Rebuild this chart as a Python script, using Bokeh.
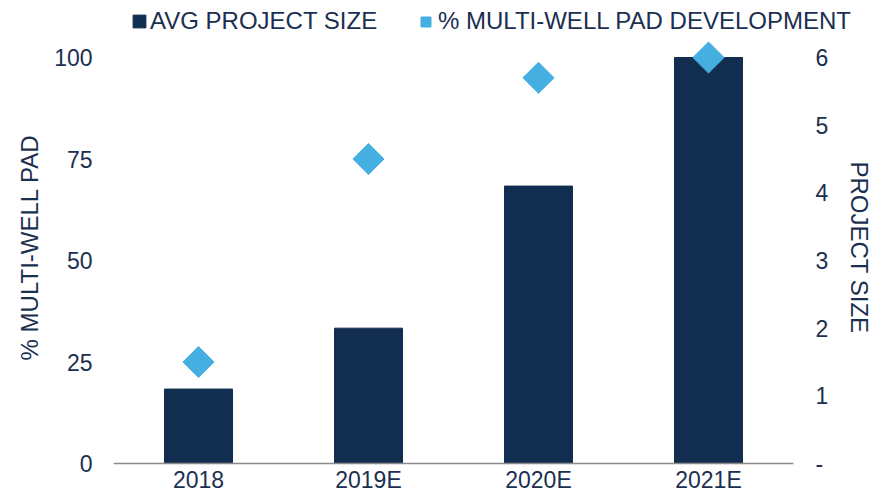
import math
from bokeh.plotting import figure
from bokeh.models import (Range1d, LinearAxis, FixedTicker, Legend, LegendItem)
from bokeh.embed import file_html
from bokeh.resources import INLINE

years = ["2018", "2019E", "2020E", "2021E"]
avg_project_size = [1.1, 2.0, 4.1, 6.0]
pct_multi_well_pad = [25, 75, 95, 100]
left_ticks = [0, 25, 50, 75, 100]
right_ticks = [0, 1, 2, 3, 4, 5, 6]
series_names = ["AVG PROJECT SIZE", "% MULTI-WELL PAD DEVELOPMENT"]

FONT = "Liberation Sans"
TEXT = "#1B2F50"
BAR = "#112E51"
DIAMOND = "#45AFE2"

# vertical frame spans the whole figure; 0 sits at 463px, 100 at 57px
LEFT_MAX = 463 / 4.06
LEFT_MIN = -(494 - 463) / 4.06
RATIO = 6 / 100
# category slots 0..n-1 (labels come from `years`)
slots = list(range(len(years)))
x_end = len(years) - 0.5
X_MAX = -0.5 + 764 / 170

p = figure(x_range=Range1d(-0.5, X_MAX), y_range=Range1d(LEFT_MIN, LEFT_MAX),
           width=877, height=494, output_backend="svg", toolbar_location=None,
           min_border_left=113, min_border_right=0, min_border_top=0,
           min_border_bottom=0)
p.extra_y_ranges = {"size": Range1d(LEFT_MIN * RATIO, LEFT_MAX * RATIO)}
p.outline_line_color = None
p.xgrid.visible = False
p.ygrid.visible = False

bars = p.vbar(x=slots, top=avg_project_size, width=0.4, y_range_name="size",
              fill_color=BAR, line_color=BAR)
dia = p.scatter(x=slots, y=pct_multi_well_pad, marker="square", angle=math.pi / 4,
                size=22, fill_color=DIAMOND, line_color=DIAMOND)

ly = p.yaxis[0]
ly.ticker = FixedTicker(ticks=left_ticks)
ly.axis_label = "% MULTI-WELL PAD"

ry = LinearAxis(y_range_name="size", ticker=FixedTicker(ticks=right_ticks),
                axis_label="PROJECT SIZE", major_label_overrides={0: "-"},
                fixed_location=x_end)
p.add_layout(ry, "right")

for ax in (ly, ry):
    ax.axis_line_color = None
    ax.major_tick_line_color = None
    ax.minor_tick_line_color = None
    ax.major_tick_out = 0
    ax.major_tick_in = 0
    ax.minor_tick_out = 0
    ax.major_label_text_font = FONT
    ax.major_label_text_font_size = "23px"
    ax.major_label_text_color = TEXT
    ax.axis_label_text_font = FONT
    ax.axis_label_text_font_size = "24px"
    ax.axis_label_text_font_style = "normal"
    ax.axis_label_text_color = TEXT
ly.major_label_standoff = 21
ly.axis_label_standoff = 8
ry.major_label_standoff = 22
ry.axis_label_standoff = 15

xa = p.xaxis[0]
xa.fixed_location = 0
xa.ticker = FixedTicker(ticks=slots)
xa.major_label_overrides = {i: y for i, y in zip(slots, years)}
xa.bounds = (-0.5, x_end)
xa.axis_line_color = "#8C8C8C"
xa.axis_line_width = 1.5
xa.major_tick_line_color = None
xa.minor_tick_line_color = None
xa.major_tick_out = 0
xa.major_tick_in = 0
xa.minor_tick_out = 0
xa.major_label_text_font = FONT
xa.major_label_text_font_size = "23px"
xa.major_label_text_color = TEXT
xa.major_label_standoff = 3

leg1 = Legend(items=[LegendItem(label=series_names[0], renderers=[bars])],
              location=(18, 459), glyph_width=16, glyph_height=16, label_standoff=3)
leg2 = Legend(items=[LegendItem(label=series_names[1], renderers=[dia])],
              location=(300, 459), glyph_width=25, glyph_height=25, label_standoff=0)
for lg in (leg1, leg2):
    lg.orientation = "horizontal"
    lg.padding = 0
    lg.margin = 0
    lg.border_line_color = None
    lg.background_fill_alpha = 0
    lg.label_text_font = FONT
    lg.label_text_font_size = "24px"
    lg.label_text_color = TEXT
    p.add_layout(lg, "center")

open("out.html", "w").write(file_html(p, INLINE))
